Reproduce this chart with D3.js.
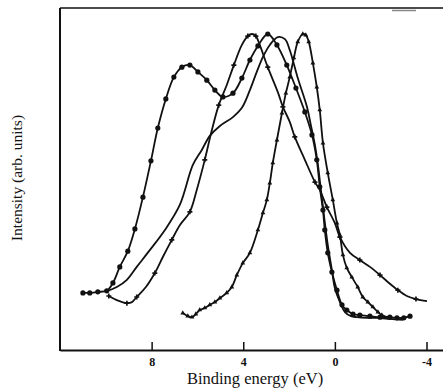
<!DOCTYPE html>
<html>
<head>
<meta charset="utf-8">
<script src="https://cdn.jsdelivr.net/npm/d3@7"></script>
<style>
  html, body { margin: 0; padding: 0; background: #fff; }
  svg { display: block; }
  text { font-family: "Liberation Serif", "DejaVu Serif", serif; fill: #111; }
</style>
</head>
<body>
<svg id="chart" width="443" height="389"></svg>
<script>
// Binding energy (eV) / intensity (arb. units) pairs
const curveA = [ // filled circles
  [11.0,16.7],[10.7,16.7],[10.35,17.0],[9.96,17.3],[9.69,19.6],[9.39,24.3],[9.04,28.9],[8.73,35.4],
  [8.38,44.7],[8.03,55.3],[7.73,64.9],[7.38,73.4],[7.03,79.8],[6.68,82.7],[6.33,83.3],[5.98,81.3],
  [5.59,78.9],[5.24,76.0],[4.89,74.0],[4.45,75.1],[4.06,79.5],[3.71,84.8],[3.36,88.9],[2.93,92.4],
  [2.53,89.2],[2.10,83.3],[1.70,76.6],[1.31,69.6],[1.00,62.9],[0.79,55.6],[0.66,47.7],[0.52,40.9],
  [0.44,35.1],[0.31,28.4],[0.13,22.8],[-0.09,17.5],[-0.31,13.2],[-0.52,11.7],[-0.79,10.5],[-1.09,10.2],
  [-1.53,9.9],[-1.97,9.6],[-2.40,9.6],[-2.71,9.4],[-3.01,9.4],[-3.28,9.9]
];
const curveB = [ // plain line
  [10.04,17.0],[9.52,18.4],[9.08,20.5],[8.65,24.3],[8.08,29.2],[7.42,35.1],[6.77,42.4],[6.20,54.1],
  [5.81,58.5],[5.46,62.6],[5.02,65.5],[4.45,68.1],[4.06,70.8],[3.71,76.0],[3.41,81.3],[3.14,85.7],
  [2.84,89.2],[2.49,91.5],[2.18,90.9],[1.97,87.7],[1.62,79.5],[1.22,71.1],[1.05,65.8],[0.87,59.9],
  [0.74,54.1],[0.61,46.8],[0.48,39.5],[0.31,30.7],[0.13,23.4],[0.0,18.1],[-0.22,14.0],[-0.44,11.1],
  [-0.70,9.9],[-0.96,9.6],[-1.40,9.4],[-1.83,9.4],[-2.40,9.1],[-2.97,8.8]
];
const curveC = [ // small crosses
  [9.87,15.8],[9.52,14.6],[9.08,13.7],[8.86,14.0],[8.65,15.5],[8.25,18.4],[7.86,22.5],[7.51,27.2],
  [7.12,32.2],[6.77,36.5],[6.33,40.4],[6.03,46.8],[5.68,55.6],[5.37,64.3],[5.07,71.6],[4.72,77.5],
  [4.41,83.3],[4.06,89.2],[3.80,91.8],[3.62,92.4],[3.45,91.8],[3.28,89.2],[2.93,82.7],[2.49,75.4],
  [2.27,71.1],[1.97,66.7],[1.75,62.3],[1.31,55.6],[0.87,49.1],[0.66,46.8],[0.35,41.8],[0.0,37.1],
  [-0.22,33.0],[-0.66,28.4],[-1.09,26.3],[-1.53,24.3],[-1.97,21.9],[-2.31,19.9],[-2.75,17.5],
  [-3.14,15.8],[-3.54,14.9],[-4.02,14.3]
];
const curveD = [ // small triangles
  [6.64,10.8],[6.42,9.9],[6.24,9.6],[6.07,10.5],[5.90,11.7],[5.68,12.3],[5.46,13.2],[5.24,14.0],
  [5.02,15.2],[4.72,16.7],[4.50,18.4],[4.28,21.9],[4.02,25.4],[3.71,28.4],[3.36,35.1],[3.14,40.1],
  [2.97,43.9],[2.84,48.8],[2.71,54.7],[2.53,61.4],[2.31,69.3],[2.14,75.1],[1.97,79.8],[1.79,85.4],
  [1.62,90.1],[1.40,92.4],[1.27,92.1],[1.14,90.1],[0.96,83.9],[0.79,76.9],[0.66,70.2],[0.52,60.5],
  [0.31,51.8],[0.09,43.9],[-0.09,37.1],[-0.22,33.6],[-0.35,27.8],[-0.52,24.0],[-0.74,21.3],
  [-1.00,18.4],[-1.22,15.5],[-1.44,14.0],[-1.66,12.6],[-1.88,11.1],[-2.05,10.2],[-2.40,9.4]
];
const xTicks = [8, 4, 0, -4];
const xTickLabels = ["8", "4", "0", "-4"];
const xTitle = "Binding energy (eV)";
const yTitle = "Intensity (arb. units)";

const svg = d3.select("#chart");
const mLeft = 60, mRight = 443, mTop = 8, mBottom = 350;
const x = d3.scaleLinear().domain([12.0, -4.72]).range([mLeft, mRight]);
const y = d3.scaleLinear().domain([0, 100]).range([mBottom, mTop]);

// frame
svg.append("line").attr("x1", mLeft).attr("x2", mLeft).attr("y1", mTop).attr("y2", mBottom + 1)
  .attr("stroke", "#111").attr("stroke-width", 2);
svg.append("line").attr("x1", mLeft).attr("x2", mRight).attr("y1", mTop).attr("y2", mTop)
  .attr("stroke", "#111").attr("stroke-width", 1.5);
svg.append("line").attr("x1", 392).attr("x2", 416).attr("y1", 10.5).attr("y2", 10.5)
  .attr("stroke", "#888").attr("stroke-width", 1.5);

// bottom axis with inward ticks
const xAxis = d3.axisBottom(x).tickValues(xTicks)
  .tickFormat((d, i) => xTickLabels[i]).tickSizeInner(-8).tickSizeOuter(0).tickPadding(7);
const gx = svg.append("g").attr("transform", `translate(0,${mBottom})`).call(xAxis);
gx.select(".domain").attr("stroke", "#111").attr("stroke-width", 2);
gx.selectAll(".tick line").attr("stroke", "#111").attr("stroke-width", 1.5);
gx.selectAll(".tick text").attr("font-family", "Liberation Serif, serif").attr("font-weight", "bold")
  .attr("font-size", 12).attr("fill", "#111");

svg.append("text").attr("x", 255).attr("y", 384).attr("text-anchor", "middle")
  .attr("font-size", 16.5).text(xTitle);
svg.append("text").attr("transform", "translate(22,178) rotate(-90)").attr("text-anchor", "middle")
  .attr("font-size", 15.5).text(yTitle);

const line = d3.line().x(d => x(d[0])).y(d => y(d[1])).curve(d3.curveCatmullRom.alpha(0.5));
const lines = svg.append("g");
[curveB, curveC, curveD, curveA].forEach(c => {
  lines.append("path").datum(c).attr("d", line).attr("fill", "none")
    .attr("stroke", "#111").attr("stroke-width", 1.8).attr("stroke-linejoin", "round");
});

// markers
svg.append("g").selectAll("circle").data(curveA).join("circle")
  .attr("cx", d => x(d[0])).attr("cy", d => y(d[1])).attr("r", 2.6).attr("fill", "#111");
svg.append("g").selectAll("path").data(curveC.filter((d, i) => i % 2 === 0)).join("path")
  .attr("d", d3.symbol(d3.symbolCross, 14)).attr("transform", d => `translate(${x(d[0])},${y(d[1])})`)
  .attr("fill", "#111");
svg.append("g").selectAll("path").data(curveD).join("path")
  .attr("d", d3.symbol(d3.symbolTriangle, 10)).attr("transform", d => `translate(${x(d[0])},${y(d[1])})`)
  .attr("fill", "#111");
</script>
</body>
</html>
